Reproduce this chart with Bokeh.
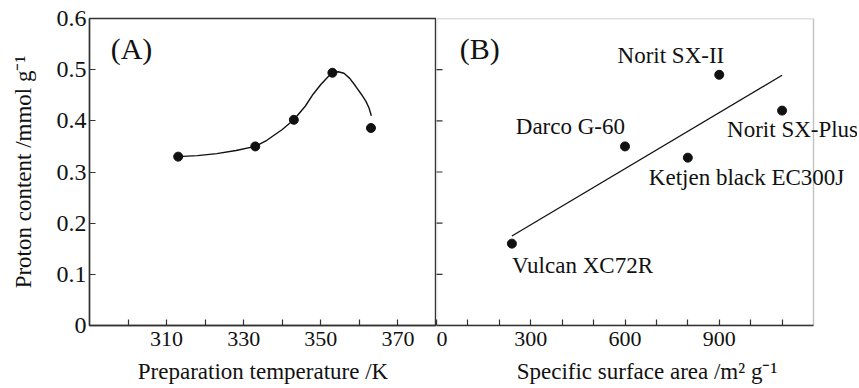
from bokeh.plotting import figure
from bokeh.layouts import row
from bokeh.models import Range1d, FixedTicker, LabelSet, Label, ColumnDataSource, BoxAnnotation
from bokeh.embed import file_html
from bokeh.resources import INLINE

# ---- data: panel A ----
temp_k = [313, 333, 343, 353, 363]
proton_a = [0.330, 0.350, 0.402, 0.494, 0.386]
curve_x = [313, 318, 323, 328, 333, 336, 340, 343, 346, 348, 350, 352, 353,
           354.5, 356, 357.5, 359, 360.5, 361.7, 362.5, 363.1]
curve_y = [0.330, 0.332, 0.336, 0.342, 0.350, 0.362, 0.383, 0.402, 0.429, 0.452,
           0.471, 0.487, 0.494, 0.496, 0.493, 0.483, 0.468, 0.452, 0.438, 0.425, 0.410]
a_major_ticks = [310, 330, 350, 370]
a_minor_ticks = [300, 320, 340, 360]
a_xmin, a_xmax = 290, 380

# ---- data: panel B ----
carbons = ["Vulcan XC72R", "Darco G-60", "Ketjen black EC300J", "Norit SX-II", "Norit SX-Plus"]
surface = [240, 600, 800, 900, 1100]
proton_b = [0.160, 0.350, 0.328, 0.490, 0.420]
fit_x = [240, 1100]
fit_y = [0.175, 0.489]
b_major_ticks = [0, 300, 600, 900]
b_minor_ticks = [100, 200, 400, 500, 700, 800, 1000, 1100]
b_xmin, b_xmax = 0, 1200

y_ticks = [0, 0.1, 0.2, 0.3, 0.4, 0.5, 0.6]
y_min, y_max = 0, 0.6

FONT = "Liberation Serif"
INK = "#111111"
AX = "#333333"

# label placement (screen offsets, px) and alignment, per carbon
lab_dx = [0, 0, -39, 5, -55]
lab_dy = [-29, 12, -27, 12, -26]
lab_align = ["left", "right", "left", "right", "left"]

H = 388
TOP, BOTTOM = 18, 63
A_LEFT, A_FRAME = 89, 347
B_FRAME_AXIS = 377          # pixel width of the 0-1200 span in panel B
B_W = 421                   # panel B canvas width (extra room for overflowing label)
b_view_max = b_xmax * B_W / B_FRAME_AXIS

yr = Range1d(y_min, y_max)


def style(p):
    p.xgrid.visible = False
    p.ygrid.visible = False
    p.background_fill_color = "white"
    p.border_fill_color = "white"
    for ax in p.xaxis + p.yaxis:
        ax.axis_line_color = AX
        ax.axis_line_width = 1.4
        ax.major_tick_line_color = AX
        ax.minor_tick_line_color = AX
        ax.major_tick_line_width = 1.2
        ax.minor_tick_line_width = 1.2
        ax.major_tick_in = 6
        ax.major_tick_out = 0
        ax.minor_tick_in = 6
        ax.minor_tick_out = 0
        ax.major_label_text_font = FONT
        ax.major_label_text_color = INK
        ax.major_label_text_font_size = "22px"
        ax.axis_label_text_font = FONT
        ax.axis_label_text_color = INK
        ax.axis_label_text_font_size = "23px"
        ax.axis_label_text_font_style = "normal"


# ---------- panel A ----------
pa = figure(width=A_LEFT + A_FRAME, height=H, x_range=Range1d(a_xmin, a_xmax), y_range=yr,
            output_backend="svg", toolbar_location=None,
            min_border_left=A_LEFT, min_border_right=0, min_border_top=TOP,
            min_border_bottom=BOTTOM)
style(pa)
pa.outline_line_color = AX
pa.outline_line_width = 1.4
pa.xaxis.ticker = FixedTicker(ticks=a_major_ticks, minor_ticks=a_minor_ticks)
pa.yaxis.ticker = FixedTicker(ticks=y_ticks, minor_ticks=[])
pa.yaxis.major_label_overrides = {0: "0"}
pa.yaxis.major_label_text_font_size = "24px"
pa.xaxis.axis_label = "Preparation temperature /K"
pa.yaxis.axis_label = "Proton content /mmol g\u207b\u00b9"
pa.xaxis.major_label_standoff = 6
pa.xaxis.axis_label_standoff = 10
pa.yaxis.major_label_standoff = 3
pa.yaxis.axis_label_standoff = 18

pa.line(curve_x, curve_y, line_color=INK, line_width=1.4)
pa.scatter(temp_k, proton_a, size=9, color=INK)
pa.add_layout(Label(x=295.5, y=0.541, text="(A)", text_font=FONT, text_font_size="30px",
                    text_color=INK, text_align="left", text_baseline="alphabetic"))

# ---------- panel B ----------
pb = figure(width=B_W, height=H, x_range=Range1d(b_xmin, b_view_max), y_range=yr,
            output_backend="svg", toolbar_location=None, y_axis_location=None,
            min_border_left=0, min_border_right=0, min_border_top=TOP,
            min_border_bottom=BOTTOM, outline_line_color=None)
style(pb)
pb.xaxis.ticker = FixedTicker(ticks=b_major_ticks, minor_ticks=b_minor_ticks)
pb.xaxis.bounds = (b_xmin, b_xmax)
pb.xaxis.axis_label = "Specific surface area /m\u00b2 g\u207b\u00b9"
pb.xaxis.major_label_standoff = 6
pb.xaxis.axis_label_standoff = 10

# inward ticks on the shared left edge of panel B
pb.scatter([b_xmin] * (len(y_ticks) - 2), y_ticks[1:-1], marker="dash", size=12,
           line_color=AX, line_width=1.2)

pb.line(fit_x, fit_y, line_color=INK, line_width=1.3)
pb.scatter(surface, proton_b, size=9, color=INK)

src = ColumnDataSource(dict(x=surface, y=proton_b, name=carbons,
                            dx=lab_dx, dy=lab_dy, al=lab_align))
pb.add_layout(LabelSet(x="x", y="y", text="name", source=src, x_offset="dx", y_offset="dy",
                       text_align="al", text_baseline="alphabetic", text_font=FONT,
                       text_font_size="23px", text_color=INK))
pb.add_layout(Label(x=74, y=0.541, text="(B)", text_font=FONT, text_font_size="30px",
                    text_color=INK, text_align="left", text_baseline="alphabetic"))

# frame of panel B over the 0-1200 data span (drawn on top, as in the original)
pb.add_layout(BoxAnnotation(left=b_xmin, right=b_xmax, bottom=y_min, top=y_max,
                            fill_alpha=0, fill_color=None, line_color=AX,
                            line_width=1.4, level="overlay"))

layout = row(pa, pb, spacing=0)
open("out.html", "w").write(file_html(layout, INLINE))
